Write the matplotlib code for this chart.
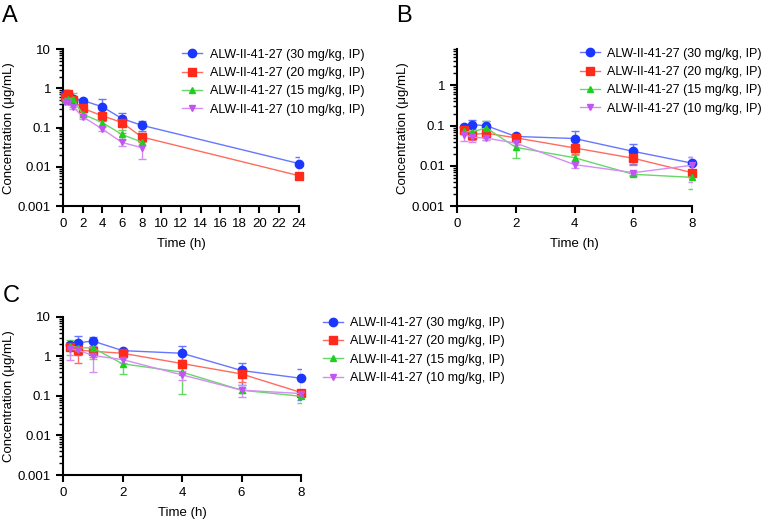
import matplotlib.pyplot as plt
from matplotlib.ticker import LogLocator, NullFormatter, FixedLocator

plt.rcParams['font.family'] = ['Liberation Sans', 'DejaVu Sans']

labels = ["ALW-II-41-27 (30 mg/kg, IP)", "ALW-II-41-27 (20 mg/kg, IP)",
          "ALW-II-41-27 (15 mg/kg, IP)", "ALW-II-41-27 (10 mg/kg, IP)"]
markers = ['o', 's', '^', 'v']
msizes = [6, 6, 5, 5]
colors = ['#1b37ff', '#ff2a1a', '#1fcf1f', '#c254f2']
lightcolors = ['#6677ff', '#ff6b5f', '#66d866', '#d58cf5']

# panel A
tA_long = [0.25, 0.5, 1, 2, 4, 6, 8, 24]
tA_short = [0.25, 0.5, 1, 2, 4, 6, 8]
A_30 = [0.70, 0.72, 0.55, 0.49, 0.34, 0.17, 0.115, 0.0122]
A_30_sd = [0.15, 0.12, 0.10, 0.06, 0.19, 0.06, 0.035, 0.006]
A_20 = [0.62, 0.72, 0.50, 0.31, 0.20, 0.135, 0.058, 0.006]
A_20_sd = [0.10, 0.10, 0.08, 0.04, 0.04, 0.06, 0.014, 0.0009]
A_15 = [0.52, 0.55, 0.55, 0.22, 0.135, 0.067, 0.043]
A_15_sd = [0.08, 0.10, 0.22, 0.03, 0.025, 0.018, 0.007]
A_10 = [0.45, 0.46, 0.34, 0.19, 0.092, 0.042, 0.031]
A_10_sd = [0.06, 0.07, 0.04, 0.02, 0.01, 0.008, 0.015]

# panel B
tB = [0.25, 0.5, 1, 2, 4, 6, 8]
B_30 = [0.093, 0.106, 0.10, 0.054, 0.048, 0.023, 0.0117]
B_30_sd = [0.012, 0.035, 0.03, 0.007, 0.026, 0.012, 0.005]
B_20 = [0.078, 0.060, 0.065, 0.050, 0.028, 0.0155, 0.0068]
B_20_sd = [0.010, 0.015, 0.015, 0.008, 0.008, 0.005, 0.0015]
B_15 = [0.072, 0.070, 0.088, 0.029, 0.016, 0.0062, 0.0052]
B_15_sd = [0.010, 0.015, 0.045, 0.013, 0.003, 0.0006, 0.0026]
B_10 = [0.060, 0.052, 0.049, 0.037, 0.0108, 0.0068, 0.0104]
B_10_sd = [0.018, 0.012, 0.005, 0.004, 0.002, 0.0008, 0.0065]

# panel C
tC = [0.25, 0.5, 1, 2, 4, 6, 8]
C_30 = [1.9, 2.2, 2.45, 1.4, 1.2, 0.44, 0.28]
C_30_sd = [0.3, 1.1, 0.6, 0.15, 0.65, 0.25, 0.2]
C_20 = [1.75, 1.45, 1.35, 1.2, 0.66, 0.36, 0.122]
C_20_sd = [0.25, 0.75, 0.4, 0.2, 0.15, 0.14, 0.02]
C_15 = [1.85, 1.65, 1.65, 0.65, 0.40, 0.14, 0.098]
C_15_sd = [0.75, 0.3, 0.8, 0.3, 0.29, 0.02, 0.033]
C_10 = [1.55, 1.45, 1.05, 0.83, 0.34, 0.14, 0.115]
C_10_sd = [0.75, 0.2, 0.65, 0.15, 0.08, 0.045, 0.01]


def panel(fig, ax, series, xticks, xmax, ymax, yticks, legend_pos):
    for i, (t, y, sd) in enumerate(series):
        ax.errorbar(t, y, yerr=sd, fmt='none', ecolor=lightcolors[i],
                    elinewidth=1, capsize=3, capthick=1, zorder=2)
        ax.plot(t, y, color=lightcolors[i], lw=1, marker=markers[i],
                ms=msizes[i], mfc=colors[i], mec=colors[i], label=labels[i],
                zorder=3, clip_on=False)
    ax.set_yscale('log')
    ax.set_ylim(0.001, ymax)
    ax.set_xlim(0, xmax)
    ax.set_xticks(xticks)
    ax.yaxis.set_major_locator(FixedLocator(yticks))
    ax.set_yticklabels([('%g' % v) for v in yticks])
    ax.yaxis.set_minor_locator(LogLocator(base=10, subs=range(2, 10), numticks=20))
    ax.yaxis.set_minor_formatter(NullFormatter())
    for s in ['top', 'right']:
        ax.spines[s].set_visible(False)
    for s in ['left', 'bottom']:
        ax.spines[s].set_linewidth(1.5)
    ax.tick_params(axis='both', which='major', length=5, width=1.5, labelsize=9.5)
    ax.tick_params(axis='y', which='minor', length=3, width=1)
    ax.set_xlabel('Time (h)', fontsize=9.5, labelpad=6)
    ax.set_ylabel('Concentration (μg/mL)', fontsize=9.5, labelpad=2)
    ax.legend(loc='upper left', bbox_to_anchor=legend_pos,
              bbox_transform=fig.transFigure, frameon=False,
              fontsize=9, handlelength=1.6, handletextpad=0.6,
              labelspacing=0.5, borderaxespad=0)


fig = plt.figure(figsize=(7.64, 5.22), dpi=100)

axA = fig.add_axes([0.0825, 0.605, 0.3085, 0.301])
panel(fig, axA, [(tA_long, A_30, A_30_sd), (tA_long, A_20, A_20_sd),
                 (tA_short, A_15, A_15_sd), (tA_short, A_10, A_10_sd)],
      range(0, 25, 2), 24, 10, [0.001, 0.01, 0.1, 1, 10], (0.232, 0.916))

axB = fig.add_axes([0.598, 0.605, 0.308, 0.301])
panel(fig, axB, [(tB, B_30, B_30_sd), (tB, B_20, B_20_sd),
                 (tB, B_15, B_15_sd), (tB, B_10, B_10_sd)],
      [0, 2, 4, 6, 8], 8, 8, [0.001, 0.01, 0.1, 1], (0.752, 0.918))

axC = fig.add_axes([0.0825, 0.090, 0.3115, 0.303])
panel(fig, axC, [(tC, C_30, C_30_sd), (tC, C_20, C_20_sd),
                 (tC, C_15, C_15_sd), (tC, C_10, C_10_sd)],
      [0, 2, 4, 6, 8], 8, 10, [0.001, 0.01, 0.1, 1, 10], (0.4156, 0.402))

fig.text(0.003, 0.99, 'A', fontsize=17, va='top')
fig.text(0.518, 0.99, 'B', fontsize=17, va='top')
fig.text(0.003, 0.454, 'C', fontsize=17, va='top')

fig.savefig('out.png', dpi=100)
